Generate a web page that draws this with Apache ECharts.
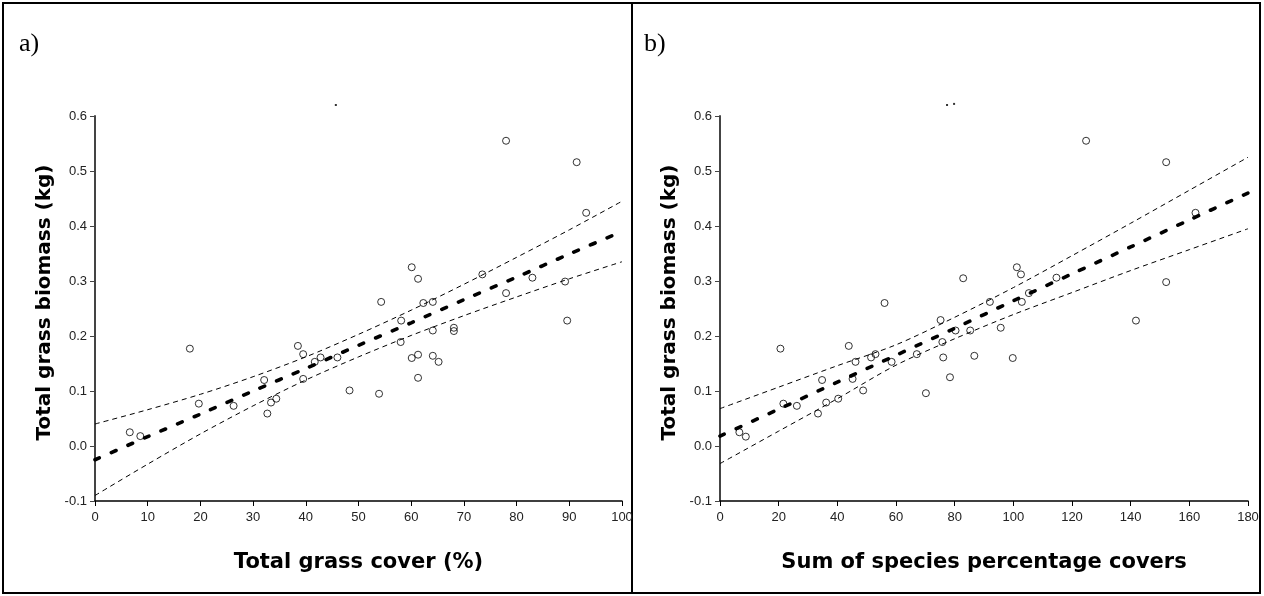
<!DOCTYPE html>
<html>
<head>
<meta charset="utf-8">
<script src="https://cdn.jsdelivr.net/npm/echarts@6/dist/echarts.min.js"></script>
<style>
html,body{margin:0;padding:0;background:#fff;}
#c{width:1264px;height:596px;}
</style>
</head>
<body>
<div id="c"></div>
<script>
// ---- Panel a: total grass cover (%) vs biomass (kg)
const pointsA = [
  [6.6,0.025],[8.6,0.018],[18.0,0.177],[19.7,0.077],[26.3,0.073],[32.1,0.120],
  [32.7,0.059],[33.4,0.079],[34.4,0.086],[38.5,0.182],[39.5,0.167],[39.5,0.122],
  [41.7,0.153],[42.8,0.161],[46.0,0.161],[48.3,0.101],
  [78.0,0.555],[91.4,0.516],[93.2,0.424],[60.1,0.325],[61.3,0.304],[73.5,0.312],
  [83.0,0.306],[89.2,0.299],[78.0,0.278],[54.3,0.262],[62.3,0.260],[64.1,0.262],
  [58.1,0.228],[89.6,0.228],[64.1,0.210],[68.1,0.215],[68.1,0.209],[58.0,0.189],
  [60.1,0.160],[61.3,0.166],[64.1,0.164],[65.2,0.153],[61.3,0.124],[53.9,0.095]
];
const lineXA  = [0,10,20,30,40,50,60,70,80,90,100];
const fitA    = [-0.025,0.017,0.058,0.100,0.141,0.183,0.224,0.266,0.307,0.349,0.390];
const upperA  = [0.040,0.066,0.094,0.126,0.162,0.203,0.247,0.294,0.343,0.393,0.445];
const lowerA  = [-0.090,-0.033,0.022,0.073,0.120,0.162,0.201,0.237,0.271,0.304,0.335];
const specksA = [[45.7,0.62]];

// ---- Panel b: sum of species percentage covers vs biomass (kg)
const pointsB = [
  [6.6,0.025],[8.8,0.017],[20.6,0.177],[21.6,0.077],[26.2,0.073],[33.4,0.059],
  [34.8,0.120],[36.2,0.079],[40.3,0.086],[43.9,0.182],[46.2,0.153],[45.2,0.122],
  [48.8,0.101],[51.5,0.161],[53.0,0.167],[56.1,0.260],[58.5,0.153],[67.1,0.167],
  [70.2,0.096],[75.2,0.229],[75.8,0.189],[76.1,0.161],[78.4,0.125],[80.3,0.210],
  [82.9,0.305],[85.3,0.210],[86.7,0.164],
  [124.8,0.555],[152.1,0.516],[162.1,0.424],[101.2,0.325],[102.6,0.312],[114.7,0.306],
  [92.0,0.262],[105.3,0.278],[102.9,0.262],[152.1,0.298],[95.7,0.215],[141.8,0.228],
  [99.8,0.160]
];
const lineXB  = [0,20,40,60,80,100,120,140,160,180];
const fitB    = [0.018,0.067,0.116,0.165,0.214,0.264,0.313,0.362,0.411,0.460];
const upperB  = [0.068,0.107,0.146,0.184,0.234,0.288,0.346,0.405,0.465,0.525];
const lowerB  = [-0.032,0.027,0.086,0.147,0.195,0.239,0.279,0.319,0.357,0.395];
const specksB = [[77.4,0.62],[79.8,0.622]];

const xTitleA = 'Total grass cover (%)';
const xTitleB = 'Sum of species percentage covers';
const yTitle  = 'Total grass biomass (kg)';

const zip = (xs, ys) => xs.map((x, i) => [x, ys[i]]);
const FONT = '"Liberation Sans", Arial, sans-serif';
const TITLE_FONT = '"DejaVu Sans", "Liberation Sans", Arial, sans-serif';

function xAxis(idx, max, interval, name) {
  return {
    type: 'value', gridIndex: idx, min: 0, max: max, interval: interval,
    name: name, nameLocation: 'middle', nameGap: 51,
    nameTextStyle: {fontFamily: TITLE_FONT, fontWeight: 'bold', fontSize: 21, color: '#000'},
    axisLine: {show: true, onZero: false, lineStyle: {color: '#000', width: 1.5}},
    axisTick: {show: true, inside: false, length: 5, lineStyle: {color: '#000', width: 1}},
    axisLabel: {fontFamily: FONT, fontSize: 13, color: '#222', margin: 10},
    splitLine: {show: false}
  };
}
function yAxis(idx) {
  return {
    type: 'value', gridIndex: idx, min: -0.1, max: 0.6, interval: 0.1,
    name: yTitle, nameLocation: 'middle', nameGap: 40,
    nameTextStyle: {fontFamily: TITLE_FONT, fontWeight: 'bold', fontSize: 20, color: '#000',
      padding: [0, 0, 0, 12]},
    axisLine: {show: true, onZero: false, lineStyle: {color: '#444', width: 2}},
    axisTick: {show: true, inside: false, length: 5, lineStyle: {color: '#444', width: 1}},
    axisLabel: {fontFamily: FONT, fontSize: 13, color: '#222', margin: 8,
      formatter: v => (Math.abs(v) < 1e-9 ? 0 : v).toFixed(1)},
    splitLine: {show: false}
  };
}
function lineSeries(idx, data, thick) {
  return {
    type: 'line', xAxisIndex: idx, yAxisIndex: idx, data: data,
    showSymbol: false, symbol: 'none', smooth: 0.3, z: 2, silent: true,
    lineStyle: thick ? {color: '#000', width: 3.6, type: [5, 13], cap: 'round'}
                     : {color: '#000', width: 1, type: [5, 4]}
  };
}
function scatterSeries(idx, data) {
  return {
    type: 'scatter', xAxisIndex: idx, yAxisIndex: idx, data: data,
    symbol: 'circle', symbolSize: 7, z: 3,
    itemStyle: {color: 'rgba(255,255,255,0)', borderColor: '#000', borderWidth: 1}
  };
}
function speckSeries(idx, data) {
  return {
    type: 'scatter', xAxisIndex: idx, yAxisIndex: idx, data: data,
    symbol: 'rect', symbolSize: 2, clip: false, z: 3,
    itemStyle: {color: '#000'}
  };
}

const chart = echarts.init(document.getElementById('c'), null, {renderer: 'canvas'});
chart.setOption({
  animation: false,
  backgroundColor: '#fff',
  grid: [
    {left: 95, top: 116, width: 527, height: 385},
    {left: 720, top: 116, width: 528, height: 385}
  ],
  xAxis: [xAxis(0, 100, 10, xTitleA), xAxis(1, 180, 20, xTitleB)],
  yAxis: [yAxis(0), yAxis(1)],
  series: [
    lineSeries(0, zip(lineXA, upperA), false),
    lineSeries(0, zip(lineXA, lowerA), false),
    lineSeries(0, zip(lineXA, fitA), true),
    scatterSeries(0, pointsA),
    speckSeries(0, specksA),
    lineSeries(1, zip(lineXB, upperB), false),
    lineSeries(1, zip(lineXB, lowerB), false),
    lineSeries(1, zip(lineXB, fitB), true),
    scatterSeries(1, pointsB),
    speckSeries(1, specksB)
  ],
  graphic: [
    {type: 'rect', shape: {x: 3, y: 3, width: 1257, height: 590}, style: {fill: 'none', stroke: '#000', lineWidth: 2}},
    {type: 'line', shape: {x1: 632, y1: 3, x2: 632, y2: 593}, style: {stroke: '#000', lineWidth: 2}},
    {type: 'text', left: 19, top: 31, style: {text: 'a)', font: '26px "Liberation Serif", "Times New Roman", serif', fill: '#000'}},
    {type: 'text', left: 644, top: 31, style: {text: 'b)', font: '26px "Liberation Serif", "Times New Roman", serif', fill: '#000'}}
  ]
});
</script>
</body>
</html>
